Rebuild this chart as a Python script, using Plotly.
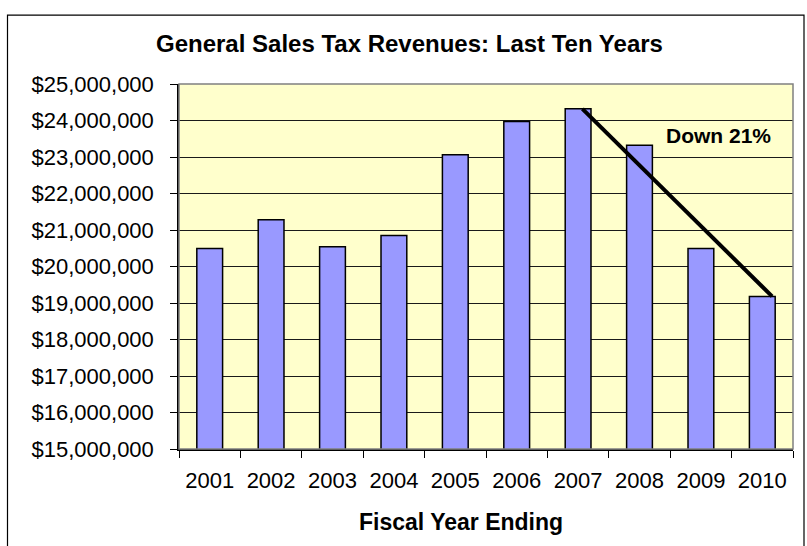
import plotly.graph_objects as go

# Fiscal years and general sales tax revenues (USD)
years = ["2001", "2002", "2003", "2004", "2005", "2006", "2007", "2008", "2009", "2010"]
revenues = [20490000, 21280000, 20540000, 20850000, 23060000,
            23970000, 24320000, 23320000, 20490000, 19180000]

trend_label = "Down 21%"
trend_start = "2007"
trend_end = "2010"

FONT = "Liberation Sans, Arial, Helvetica, sans-serif"

fig = go.Figure()
fig.add_trace(go.Bar(
    x=years,
    y=revenues,
    marker=dict(color="#9999FF", line=dict(color="#000000", width=1.5)),
    hoverinfo="skip",
))

i0 = years.index(trend_start)
i1 = years.index(trend_end)
v0 = revenues[i0]
v1 = revenues[i1]

shapes = [
    # plot-area frame (grey top/right edges)
    dict(type="rect", xref="paper", yref="paper", x0=0, x1=1, y0=0, y1=1,
         line=dict(color="#808080", width=1.5), layer="above"),
    # outer chart frame
    dict(type="rect", xref="paper", yref="paper",
         x0=(7.5 - 179) / 614, x1=(804 - 179) / 614,
         y0=-0.5, y1=(449.5 - 15) / 365.5,
         line=dict(color="#000000", width=1.2), layer="below"),
    # decline trend line
    dict(type="line", xref="x", yref="y",
         x0=i0 + 0.07, y0=v0, x1=i1 + 0.16, y1=v1,
         line=dict(color="#000000", width=4), layer="above"),
]

annotations = [
    dict(text="<b>General Sales Tax Revenues: Last Ten Years</b>",
         xref="paper", yref="paper", x=(409 - 179) / 614, y=(449.5 - 43) / 365.5,
         xanchor="center", yanchor="middle", showarrow=False,
         font=dict(family=FONT, size=24, color="#000000")),
    dict(text="<b>Fiscal Year Ending</b>",
         xref="paper", yref="paper", x=(461 - 179) / 614, y=(449.5 - 523) / 365.5,
         xanchor="center", yanchor="middle", showarrow=False,
         font=dict(family=FONT, size=23, color="#000000")),
    dict(text="<b>" + trend_label + "</b>",
         xref="x", yref="y", x=8.28, y=23580000,
         xanchor="center", yanchor="middle", showarrow=False,
         font=dict(family=FONT, size=21, color="#000000")),
]

fig.update_layout(
    width=807, height=546,
    margin=dict(l=179, r=14, t=84, b=96.5),
    paper_bgcolor="#FFFFFF",
    plot_bgcolor="#FFFFCC",
    showlegend=False,
    bargap=0.58,
    font=dict(family=FONT, size=22, color="#000000"),
    shapes=shapes,
    annotations=annotations,
)

fig.update_xaxes(
    type="category",
    showline=True, linecolor="#000000", linewidth=1.5,
    ticks="outside", ticklen=7, tickcolor="#000000", tickwidth=1,
    tickson="boundaries",
    showgrid=False,
    tickfont=dict(family=FONT, size=22, color="#000000"),
    ticklabelstandoff=11,
)

fig.update_yaxes(
    range=[15000000, 25000000], dtick=1000000,
    tickformat="$,.0f",
    showline=True, linecolor="#000000", linewidth=1.5,
    ticks="outside", ticklen=7, tickcolor="#000000", tickwidth=1,
    showgrid=True, gridcolor="#1a1a1a", gridwidth=1,
    zeroline=False,
    tickfont=dict(family=FONT, size=22, color="#000000"),
    ticklabelstandoff=12,
)

fig.write_html("out.html")
